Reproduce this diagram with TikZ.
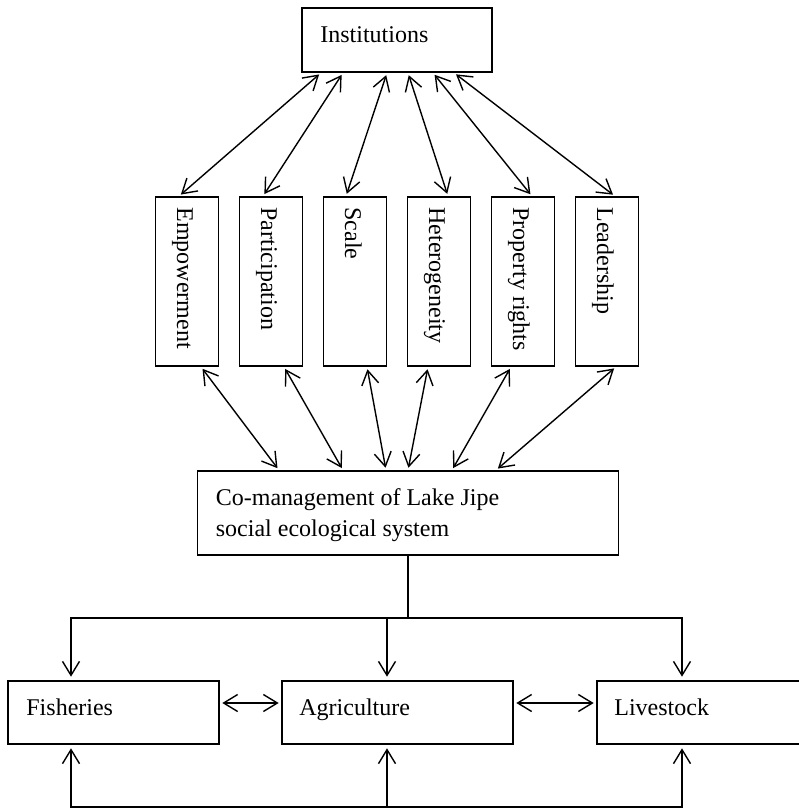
\documentclass[tikz,border=0pt]{standalone}
\usepackage{fontspec}
\setmainfont{Liberation Serif}
\usetikzlibrary{arrows.meta,calc}
\begin{document}
\begin{tikzpicture}[x=1pt,y=-1pt,
  box/.style={draw, line width=1.6pt, rectangle, inner sep=0pt},
  vbox/.style={box, minimum width=63pt, minimum height=169pt},
  lbl/.style={font=\fontsize{24}{28}\selectfont, inner sep=0pt, anchor=base west},
  vlbl/.style={lbl, rotate=-90},
  link/.style={line width=1.4pt},
  oneway/.style={link, -{Straight Barb[length=14pt,width=17pt]}, shorten >=3.5pt},
  twoway/.style={link, {Straight Barb[length=14pt,width=17pt]}-{Straight Barb[length=14pt,width=17pt]},
                 shorten >=2.5pt, shorten <=2.5pt}]
\useasboundingbox (0,0) rectangle (799,809);

% top box
\node[box, minimum width=190pt, minimum height=64pt] (inst) at (397,40) {};
\node[lbl] (inst-t) at ([xshift=19pt,yshift=-35pt]inst.north west) {Institutions};

% attribute boxes
\node[vbox] (emp)  at (187,281.5) {};
\node[vbox] (par)  at (271,281.5) {};
\node[vbox] (sca)  at (355,281.5) {};
\node[vbox] (het)  at (439,281.5) {};
\node[vbox] (pro)  at (523,281.5) {};
\node[vbox] (lea)  at (607,281.5) {};
\foreach \b/\t in {emp/Empowerment, par/Participation, sca/Scale,
                   het/Heterogeneity, pro/Property rights, lea/Leadership}
  \node[vlbl] (\b-t) at ([xshift=-10pt,yshift=-11pt]\b.north) {\t};

% co-management box
\node[box, minimum width=421pt, minimum height=84pt] (com) at (408,513) {};
\node[lbl] (com-t1) at ([xshift=19pt,yshift=-35pt]com.north west) {Co-management of Lake Jipe};
\node[lbl] (com-t2) at ([xshift=19pt,yshift=-66pt]com.north west) {social ecological system};

% sector boxes
\node[box, minimum width=211pt, minimum height=63pt] (fish) at (113.5,712.5) {};
\node[box, minimum width=231pt, minimum height=63pt] (agri) at (397.5,712.5) {};
\node[box, minimum width=213pt, minimum height=63pt] (live) at (703.5,712.5) {};
\node[lbl] (fish-t) at ([xshift=19pt,yshift=-35.5pt]fish.north west) {Fisheries};
\node[lbl] (agri-t) at ([xshift=18pt,yshift=-35.5pt]agri.north west) {Agriculture};
\node[lbl] (live-t) at ([xshift=18pt,yshift=-35.5pt]live.north west) {Livestock};

% institutions <-> attributes
\foreach \b/\a/\c in {emp/-76/-8, par/-54/-8, sca/-10/-9, het/11/9, pro/36/9, lea/57/8}
  \draw[twoway] ([xshift=\a pt]inst.south) -- ([xshift=\c pt]\b.north);

% attributes <-> co-management
\foreach \b/\a/\c in {emp/14/-129, par/13/-65, sca/12/-22, het/-11/0, pro/-12/44, lea/9/88}
  \draw[twoway] ([xshift=\a pt]\b.south) -- ([xshift=\c pt]com.north);

% branching to the sectors
\coordinate (split) at (408,618);
\coordinate (fishin) at ([xshift=-42.5pt]fish.north);
\coordinate (agriin) at ([xshift=-10.5pt]agri.north);
\coordinate (livein) at ([xshift=-21.5pt]live.north);
\draw[link] (com.south) -- (split);
\draw[oneway] (split) -| (fishin);
\draw[oneway] (split) -| (agriin);
\draw[oneway] (split) -| (livein);

% feedback loop below the sectors
\coordinate (loop) at (387,807);
\coordinate (fishout) at ([xshift=-42.5pt]fish.south);
\coordinate (agriout) at ([xshift=-10.5pt]agri.south);
\coordinate (liveout) at ([xshift=-21.5pt]live.south);
\draw[oneway] (loop) -| (fishout);
\draw[oneway] (loop) -- (agriout);
\draw[oneway] (loop) -| (liveout);

% links between neighbouring sectors
\draw[twoway] ([yshift=9.5pt]fish.east) -- ([yshift=9.5pt]agri.west);
\draw[twoway] ([yshift=9.5pt]agri.east) -- ([yshift=9.5pt]live.west);
\end{tikzpicture}
\end{document}
